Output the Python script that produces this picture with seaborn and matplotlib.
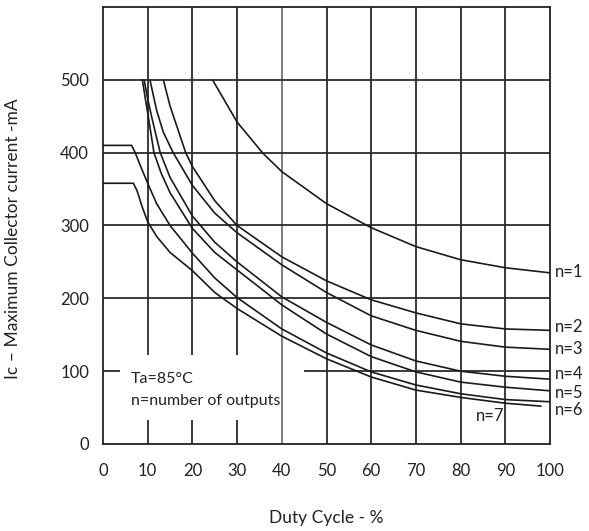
import pandas as pd
import matplotlib
matplotlib.use('Agg')
import matplotlib.pyplot as plt
import seaborn as sns

# duty cycle (%) / max collector current (mA)
duty_n1 = [24.5, 30, 35.8, 40, 50, 60, 70, 80, 90, 100]
ic_n1 = [500, 442, 399, 374, 330, 297, 271, 253, 242, 235]

duty_n2 = [13.5, 15, 18.5, 20, 25, 30, 40, 50, 60, 70, 80, 90, 100]
ic_n2 = [500, 464, 400, 381, 334, 300, 257, 224, 198, 180, 165, 158, 156]

duty_n3 = [10.5, 12, 13.5, 15.7, 20, 25, 30, 40, 50, 60, 70, 80, 90, 100]
ic_n3 = [500, 458, 428, 400, 355, 317, 290, 246, 208, 176, 156, 141, 133, 130]

duty_n4 = [9.2, 10, 11, 12.8, 15, 20, 25, 30, 40, 50, 60, 70, 80, 90, 100]
ic_n4 = [500, 474, 446, 400, 366, 313, 277, 250, 202, 167, 136, 114, 100, 93, 89]

duty_n5 = [8.8, 9.5, 10.2, 11.4, 13, 15, 20, 25, 30, 40, 50, 60, 70, 80, 90, 100]
ic_n5 = [500, 473, 447, 400, 372, 345, 296, 263, 239, 191, 151, 120, 99, 85, 78, 73]

duty_n6 = [0, 6.4, 7.2, 8.5, 10, 12, 15, 20, 25, 30, 40, 50, 60, 70, 80, 90, 100]
ic_n6 = [410, 410, 400, 380, 358, 330, 300, 262, 228, 201, 158, 125, 99, 81, 69, 61, 58]

duty_n7 = [0, 6.8, 7.6, 8.8, 10, 12, 15, 20, 25, 30, 40, 50, 60, 70, 80, 90, 98]
ic_n7 = [358, 358, 348, 325, 305, 285, 263, 238, 208, 186, 148, 117, 92, 74, 64, 56, 52]

series = {
    'n=1': (duty_n1, ic_n1),
    'n=2': (duty_n2, ic_n2),
    'n=3': (duty_n3, ic_n3),
    'n=4': (duty_n4, ic_n4),
    'n=5': (duty_n5, ic_n5),
    'n=6': (duty_n6, ic_n6),
    'n=7': (duty_n7, ic_n7),
}

# label positions at the right end (y in mA)
label_names = ['n=1', 'n=2', 'n=3', 'n=4', 'n=5', 'n=6']
label_y = [236, 161, 130, 96, 70, 47]

x_ticks = [0, 10, 20, 30, 40, 50, 60, 70, 80, 90, 100]
y_ticks = [0, 100, 200, 300, 400, 500]

rows = []
for name, (xs, ys) in series.items():
    for x, y in zip(xs, ys):
        rows.append({'duty': x, 'ic': y, 'n': name})
df = pd.DataFrame(rows)

sns.set_style('white')
plt.rcParams['font.family'] = ['Lato', 'DejaVu Sans']

fig = plt.figure(figsize=(5.89, 5.31), dpi=100)
ax = fig.add_axes([103 / 589, 87 / 531, 447 / 589, 437 / 531])

grid_col = '#2b2b2b'
# grid, broken where the note sits
for x in x_ticks[1:-1]:
    if x in (10, 20, 30):
        ax.vlines(x, 0, 33, color=grid_col, linewidth=1.3, zorder=1)
        ax.vlines(x, 122, 600, color=grid_col, linewidth=1.3, zorder=1)
    elif x == 40:
        ax.axvline(x, color='#5a5a5a', linewidth=1.1, zorder=1)
    else:
        ax.axvline(x, color=grid_col, linewidth=1.3, zorder=1)
for y in y_ticks[1:]:
    if y == 100:
        ax.hlines(y, 0, 3.8, color=grid_col, linewidth=1.3, zorder=1)
        ax.hlines(y, 45, 100, color=grid_col, linewidth=1.3, zorder=1)
    else:
        ax.axhline(y, color=grid_col, linewidth=1.3, zorder=1)

sns.lineplot(
    data=df,
    x='duty',
    y='ic',
    hue='n',
    units='n',
    estimator=None,
    sort=False,
    palette=['#1a1a1a'] * 7,
    linewidth=1.2,
    legend=False,
    ax=ax,
    zorder=3,
)

ax.set_xlim(0, 100)
ax.set_ylim(0, 600)
ax.set_xticks(x_ticks)
ax.set_yticks(y_ticks)
ax.tick_params(axis='both', length=0, labelsize=12, colors='#222222')
ax.tick_params(axis='x', pad=14)
ax.tick_params(axis='y', pad=10)
for sp in ax.spines.values():
    sp.set_color('#222222')
    sp.set_linewidth(1.3)

ax.set_xlabel('Duty Cycle - %', fontsize=12.5, labelpad=22, color='#222222')
ax.set_ylabel('Ic – Maximum Collector current -mA', fontsize=12.5, color='#222222')
ax.yaxis.set_label_coords(-0.183, 0.469)

ax.text(6.2, 99, 'Ta=85°C\nn=number of outputs', fontsize=11.5, color='#222222',
        va='top', ha='left', linespacing=1.75, zorder=4)

for name, y in zip(label_names, label_y):
    ax.text(101.2, y, name, fontsize=12, va='center', ha='left', color='#222222',
            clip_on=False)
ax.text(86.5, 39, 'n=7', fontsize=12, va='center', ha='center', color='#222222', zorder=4)

fig.savefig('out.png', dpi=100)
